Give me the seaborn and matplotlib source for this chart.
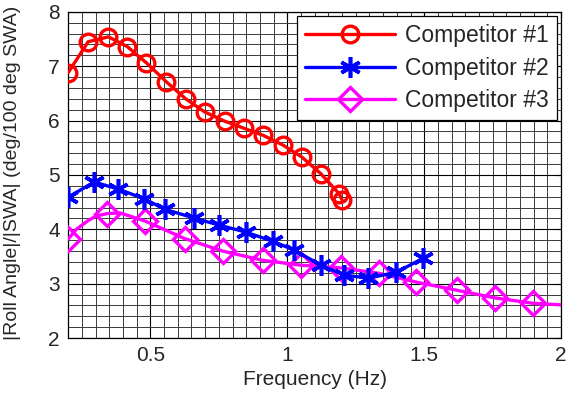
import numpy as np
import pandas as pd
import matplotlib
matplotlib.use("Agg")
import matplotlib.pyplot as plt
from matplotlib.ticker import MultipleLocator
import seaborn as sns

# Data
c1_freq = [0.20, 0.273, 0.347, 0.416, 0.486, 0.559, 0.629, 0.698, 0.771, 0.841,
           0.911, 0.984, 1.053, 1.123, 1.19, 1.20]
c1_gain = [6.88, 7.45, 7.54, 7.36, 7.06, 6.71, 6.40, 6.16, 5.99, 5.86,
           5.73, 5.55, 5.33, 5.02, 4.65, 4.54]

c2_freq = [0.20, 0.295, 0.383, 0.478, 0.552, 0.658, 0.749, 0.848, 0.947, 1.024,
           1.123, 1.207, 1.295, 1.398, 1.497]
c2_gain = [4.59, 4.87, 4.74, 4.56, 4.37, 4.21, 4.08, 3.95, 3.78, 3.62,
           3.34, 3.16, 3.10, 3.21, 3.47]

c3_freq = [0.20, 0.23, 0.27, 0.30, 0.343, 0.39, 0.482, 0.625, 0.764, 0.91,
           1.05, 1.196, 1.335, 1.47, 1.618, 1.757, 1.896, 2.00]
c3_gain = [3.82, 4.00, 4.15, 4.24, 4.29, 4.30, 4.15, 3.83, 3.60, 3.43,
           3.34, 3.29, 3.19, 3.03, 2.88, 2.74, 2.64, 2.61]
c3_marker_idx = [0, 4, 6, 7, 8, 9, 10, 11, 12, 13, 14, 15, 16]

labels = ["Competitor #1", "Competitor #2", "Competitor #3"]
xticks = [0.5, 1, 1.5, 2]
yticks = [2, 3, 4, 5, 6, 7, 8]

sns.set_style("white")
plt.rcParams["font.family"] = ["Liberation Sans", "DejaVu Sans"]

fig = plt.figure(figsize=(5.68, 3.94), dpi=100)
ax = fig.add_axes([0.12, 0.142, 0.868, 0.828])

df1 = pd.DataFrame({"f": c1_freq, "g": c1_gain})
df2 = pd.DataFrame({"f": c2_freq, "g": c2_gain})
df3 = pd.DataFrame({"f": c3_freq, "g": c3_gain})

sns.lineplot(data=df1, x="f", y="g", ax=ax, color="#ff0000", lw=2.4,
             marker="o", ms=12, mfc="none", mec="#ff0000", mew=2.4,
             label=labels[0], sort=False, estimator=None, zorder=5)
sns.lineplot(data=df2, x="f", y="g", ax=ax, color="#0000ff", lw=2.4,
             marker=(6, 2, 0), ms=15, mec="#0000ff", mew=2.6,
             label=labels[1], sort=False, estimator=None, zorder=4)
sns.lineplot(data=df3, x="f", y="g", ax=ax, color="#ff00ff", lw=2.4,
             marker="D", ms=12, mfc="none", mec="#ff00ff", mew=2.4,
             markevery=c3_marker_idx,
             label=labels[2], sort=False, estimator=None, zorder=3)

ax.set_xlim(0.2, 2.0)
ax.set_ylim(2, 8)
ax.set_xticks(xticks)
ax.set_xticklabels(["0.5", "1", "1.5", "2"])
ax.set_yticks(yticks)
ax.xaxis.set_minor_locator(MultipleLocator(0.05))
ax.yaxis.set_minor_locator(MultipleLocator(0.2))
ax.grid(which="major", color="black", lw=0.8)
ax.grid(which="minor", color="#3a3a3a", lw=0.7)
ax.set_axisbelow(True)
ax.tick_params(which="major", direction="in", top=True, right=True,
               length=4, labelsize=15, color="black", pad=6)
ax.tick_params(which="minor", length=0)
for s in ax.spines.values():
    s.set_color("black")
    s.set_linewidth(0.9)

ax.set_xlabel("Frequency (Hz)", fontsize=15, labelpad=3)
ax.set_ylabel("|Roll Angle|/|SWA| (deg/100 deg SWA)", fontsize=14, labelpad=6)
ax.yaxis.set_label_coords(-0.095, 0.505)

leg = ax.legend(loc="upper right", fontsize=16.5, frameon=True, fancybox=False,
                edgecolor="black", framealpha=1, borderpad=0.35,
                handlelength=3.9, handletextpad=0.45, labelspacing=0.4,
                borderaxespad=0.2)
leg.get_frame().set_linewidth(0.9)

fig.savefig("out.png", dpi=100)
